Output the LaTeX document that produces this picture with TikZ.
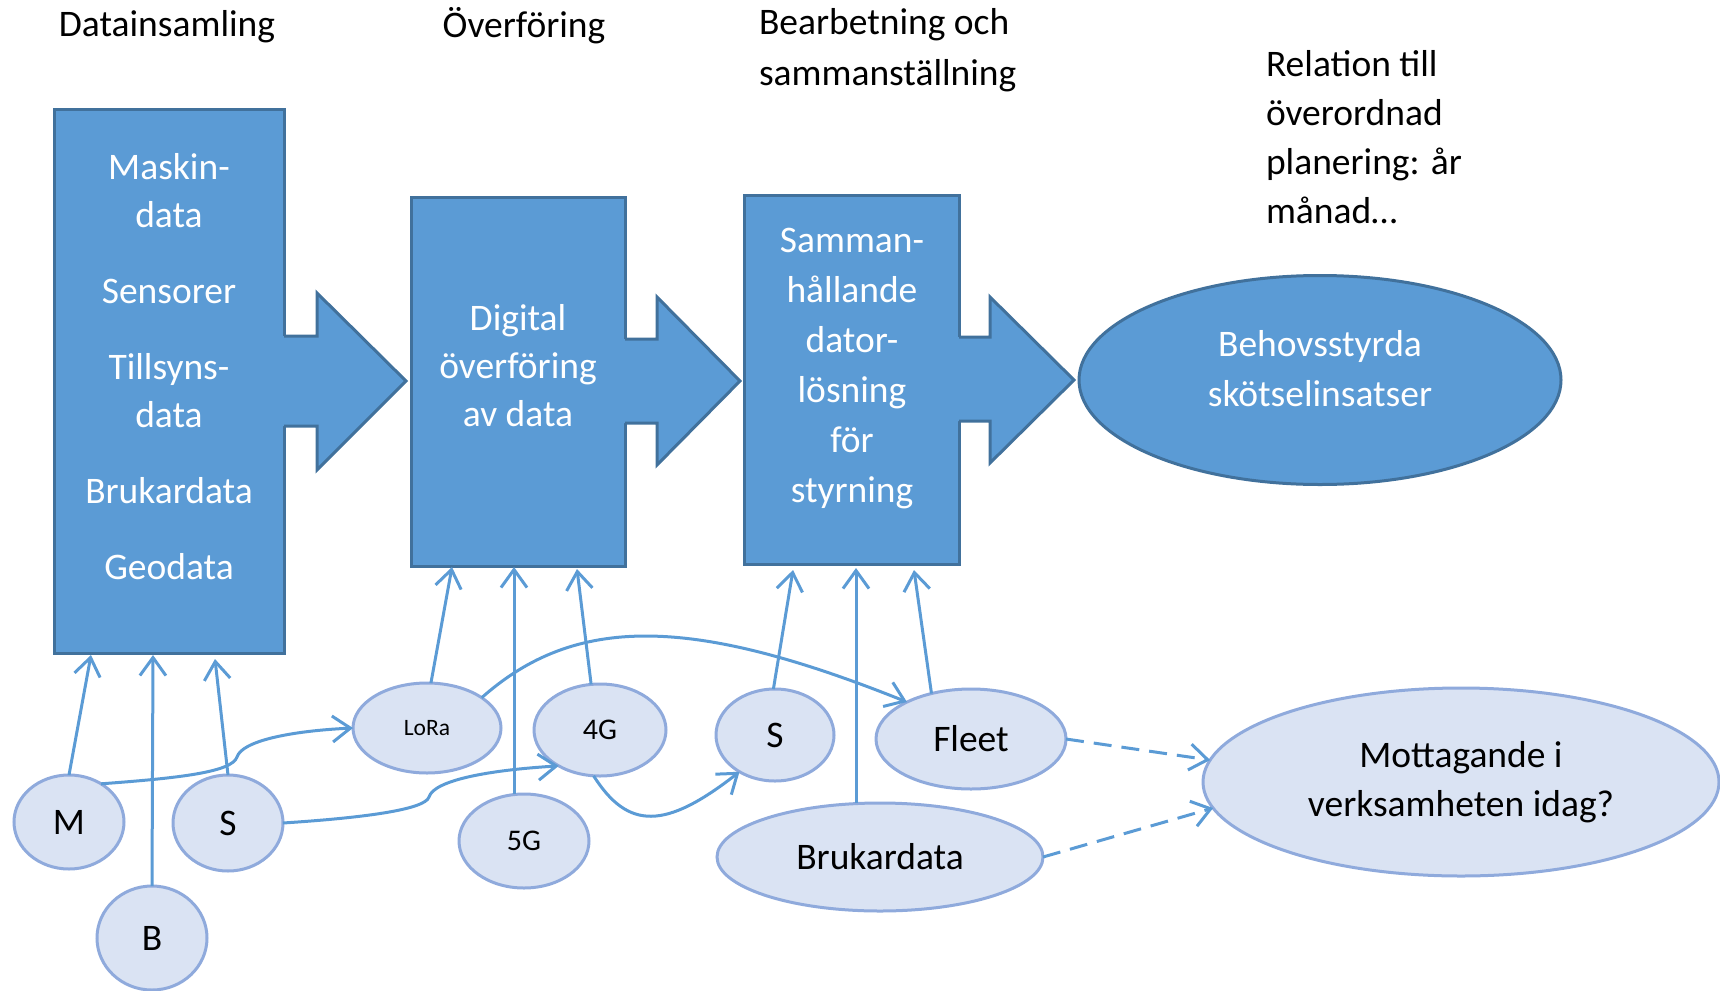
\documentclass[tikz,border=0pt]{standalone}
\usepackage{fontspec}
\setmainfont{Carlito}
\usetikzlibrary{arrows.meta,shapes.geometric}
\definecolor{boxfill}{HTML}{5B9BD5}
\definecolor{boxline}{HTML}{41719C}
\definecolor{lightfill}{HTML}{DAE3F3}
\definecolor{lightline}{HTML}{8FAADC}
\definecolor{linkcol}{HTML}{5B9BD5}
\begin{document}
\begin{tikzpicture}[x=1pt,y=-1pt,
  every node/.style={inner sep=0pt,outer sep=0pt},
  txt/.style={font=\fontsize{37.5}{48}\selectfont,align=center},
  lefttxt/.style={font=\fontsize{37.5}{49}\selectfont,align=left},
  whitetxt/.style={txt,text=white},
  block/.style={rectangle,draw=boxline,fill=boxfill,line width=3pt,anchor=north west},
  blockarrow/.style={draw=boxline,line width=3pt,line join=miter},
  goalell/.style={ellipse,draw=boxline,fill=boxfill,line width=3pt},
  srcell/.style={ellipse,draw=lightline,fill=lightfill,line width=3pt,font=\fontsize{37.5}{48}\selectfont,align=center},
  link/.style={draw=linkcol,line width=3pt,-{Straight Barb[length=18pt,width=26pt]}},
  dashlink/.style={link,dash pattern=on 18pt off 10pt}
]
\useasboundingbox (0,0) rectangle (1720,990);

% column headings
\node[txt,anchor=center] (h1) at (167,27) {Datainsamling};
\node[txt,anchor=center] (h2) at (524,26) {Överföring};
\node[lefttxt,anchor=north west,font=\fontsize{37.5}{51}\selectfont] (h3) at (759,8) {Bearbetning och\\sammanställning};
\node[lefttxt,anchor=north west] (h4) at (1266,50) {Relation till\\överordnad\\planering: år\\månad…};

% process blocks
\node[block,minimum width=230pt,minimum height=544pt] (box1) at (54,109) {};
\node[block,minimum width=214pt,minimum height=369pt] (box2) at (411,197) {};
\node[block,minimum width=215pt,minimum height=369pt] (box3) at (744,195) {};

% block arrows between the stages
\fill[boxfill] (282,336) -- (317,336) -- (317,293) -- (406,381) -- (317,470) -- (317,426) -- (282,426) -- cycle;
\draw[blockarrow] (284,336) -- (317,336) -- (317,293) -- (406,381) -- (317,470) -- (317,426) -- (284,426);
\fill[boxfill] (623,339) -- (657,339) -- (657,297) -- (740,381) -- (657,465) -- (657,423) -- (623,423) -- cycle;
\draw[blockarrow] (625,339) -- (657,339) -- (657,297) -- (740,381) -- (657,465) -- (657,423) -- (625,423);
\fill[boxfill] (957,337) -- (990,337) -- (990,297) -- (1074,380) -- (990,463) -- (990,421) -- (957,421) -- cycle;
\draw[blockarrow] (959,337) -- (990,337) -- (990,297) -- (1074,380) -- (990,463) -- (990,421) -- (959,421);

% goal ellipse
\node[goalell,minimum width=482pt,minimum height=209pt] (goal) at (1320,380) {};

% texts of the blocks
\node[whitetxt] (t1) at (169,367) {Maskin-\\data\\[28pt]Sensorer\\[28pt]Tillsyns-\\data\\[28pt]Brukardata\\[28pt]Geodata};
\node[whitetxt] (t2) at (518,366) {Digital\\överföring\\av data};
\node[whitetxt,font=\fontsize{37.5}{50}\selectfont] (t3) at (852,369) {Samman-\\hållande\\dator-\\lösning\\för\\styrning};
\node[whitetxt,font=\fontsize{37.5}{50}\selectfont] (t4) at (1320,369) {Behovsstyrda\\skötselinsatser};

% data sources
\node[srcell,minimum width=110pt,minimum height=94pt] (m) at (69,822) {M};
\node[srcell,minimum width=110pt,minimum height=96pt] (s1) at (228,823) {S};
\node[srcell,minimum width=110pt,minimum height=104pt] (b) at (152,938) {B};
\node[srcell,minimum width=148pt,minimum height=90pt,font=\fontsize{23.5}{28}\selectfont] (lora) at (427,728) {LoRa};
\node[srcell,minimum width=132pt,minimum height=92pt,font=\fontsize{30}{36}\selectfont] (g4) at (600,730) {4G};
\node[srcell,minimum width=130pt,minimum height=94pt,font=\fontsize{30}{36}\selectfont] (g5) at (524,841) {5G};
\node[srcell,minimum width=118pt,minimum height=92pt] (s2) at (775,735) {S};
\node[srcell,minimum width=190pt,minimum height=100pt] (fleet) at (971,739) {Fleet};
\node[srcell,minimum width=326pt,minimum height=108pt] (bruk) at (880,857) {Brukardata};
\node[srcell,minimum width=516pt,minimum height=188pt,font=\fontsize{37.5}{49}\selectfont] (mott) at (1461,782) {Mottagande i\\verksamheten idag?};

% arrow ends on the block bottoms
\coordinate (in1a) at (91,655);
\coordinate (in1b) at (153,655);
\coordinate (in1c) at (215,659);
\coordinate (in2a) at (452,567);
\coordinate (in2b) at (514,567);
\coordinate (in2c) at (577,569);
\coordinate (in3a) at (793,570);
\coordinate (in3b) at (856,568);
\coordinate (in3c) at (914,570);

% connectors into the blocks
\draw[link] (m.north) -- (in1a);
\draw[link] (b.north) -- (in1b);
\draw[link] (s1.north) -- (in1c);
\draw[link] (lora.85) -- (in2a);
\draw[link] (g5.north -| in2b) -- (in2b);
\draw[link] (g4.101) -- (in2c);
\draw[link] (s2.92) -- (in3a);
\draw[link] (bruk.north -| in3b) -- (in3b);
\draw[link] (fleet.131) -- (in3c);

% connectors between the sources
\draw[link] (m.50) .. controls (180,778) and (232,772) .. (237,757)
  .. controls (242,741) and (290,731) .. (lora.west);
\draw[link] (s1.east) .. controls (360,818) and (425,810) .. (429,797)
  .. controls (434,780) and (490,770) .. (g4.221);
\draw[link] (lora.29) .. controls (575,615) and (690,615) .. (fleet.150);
\draw[link] (g4.262) .. controls (628,830) and (665,830) .. (s2.226);

% dashed connectors to the reception ellipse
\draw[dashlink] (fleet.east) -- (mott.175);
\draw[dashlink] (bruk.east) -- (mott.186);
\end{tikzpicture}
\end{document}
